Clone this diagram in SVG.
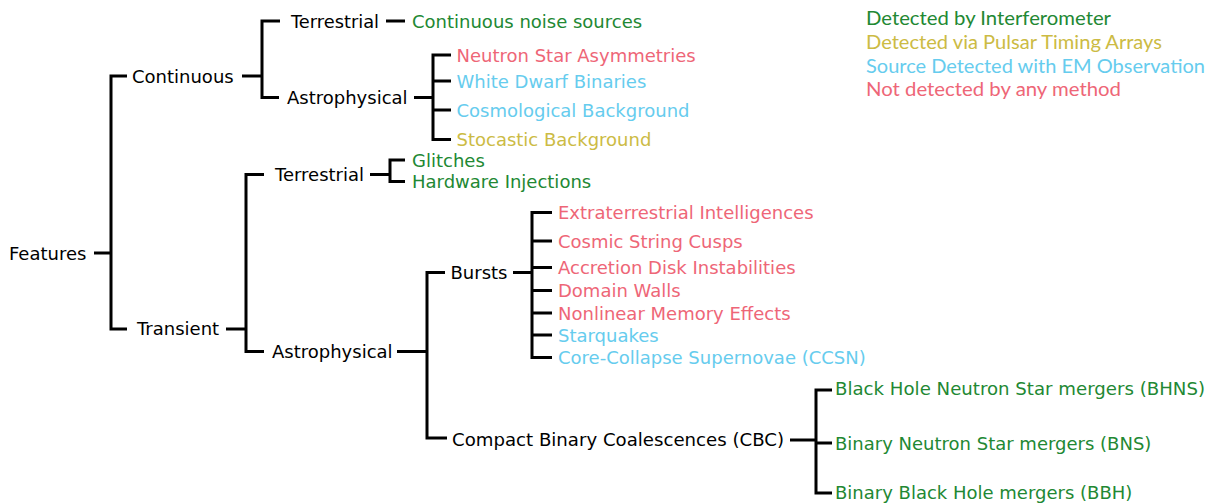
<svg xmlns="http://www.w3.org/2000/svg" width="1215" height="503" viewBox="0 0 1215 503">
<style>
text{font-family:"DejaVu Sans",sans-serif;font-size:18px}
.k{fill:#000}
.g{fill:#228833}
.y{fill:#CCBB44}
.c{fill:#66CCEE}
.r{fill:#EE6677}
.lg{font-family:Lato,"Noto Sans",sans-serif;font-size:18.5px}
#connectors path{fill:none;stroke:#000;stroke-width:3}
</style>
<rect width="1215" height="503" fill="#fff"/>
<g id="connectors">
<path d="M94 253 H111"/>
<path d="M127 76 H111 V329 H127"/>
<path d="M242 76 H262"/>
<path d="M280 21 H262 V97.5 H279"/>
<path d="M386 21 H405"/>
<path d="M414 97.5 H433"/>
<path d="M451 55 H433 V139.5 H451 M433 81 H451 M433 110 H451"/>
<path d="M226 329 H246"/>
<path d="M264 174.5 H246 V351.5 H264"/>
<path d="M370 174.5 H390"/>
<path d="M405 160 H390 V181.5 H405"/>
<path d="M397 351.5 H427"/>
<path d="M445 272.5 H427 V438 H447"/>
<path d="M513 272.5 H532"/>
<path d="M552 212.5 H532 V357.5 H552 M532 241 H552 M532 267.5 H552 M532 290.5 H552 M532 313 H552 M532 335 H552"/>
<path d="M790 440 H816"/>
<path d="M832 390 H816 V493 H832 M816 443 H832"/>
</g>
<g id="n-features"><text class="k" x="9" y="259.5">Features</text></g>
<g id="n-continuous"><text class="k" x="132" y="82.5">Continuous</text></g>
<g id="n-transient"><text class="k" x="137" y="335">Transient</text></g>
<g id="n-cont-terrestrial"><text class="k" x="291" y="28" textLength="88" lengthAdjust="spacingAndGlyphs">Terrestrial</text></g>
<g id="n-cont-astro"><text class="k" x="287" y="104">Astrophysical</text></g>
<g id="n-noise"><text class="g" x="412" y="27.5">Continuous noise sources</text></g>
<g id="n-nsa"><text class="r" x="456.5" y="61.5">Neutron Star Asymmetries</text></g>
<g id="n-wdb"><text class="c" x="456.5" y="87.5">White Dwarf Binaries</text></g>
<g id="n-cosmo"><text class="c" x="456.5" y="116.5">Cosmological Background</text></g>
<g id="n-stoc"><text class="y" x="456.5" y="145.5">Stocastic Background</text></g>
<g id="n-trans-terrestrial"><text class="k" x="275" y="181" textLength="89" lengthAdjust="spacingAndGlyphs">Terrestrial</text></g>
<g id="n-glitches"><text class="g" x="412" y="166.5">Glitches</text></g>
<g id="n-hw"><text class="g" x="412" y="188">Hardware Injections</text></g>
<g id="n-trans-astro"><text class="k" x="272" y="358">Astrophysical</text></g>
<g id="n-bursts"><text class="k" x="450.5" y="279">Bursts</text></g>
<g id="n-eti"><text class="r" x="558" y="219">Extraterrestrial Intelligences</text></g>
<g id="n-csc"><text class="r" x="558" y="247.5">Cosmic String Cusps</text></g>
<g id="n-adi"><text class="r" x="558" y="274">Accretion Disk Instabilities</text></g>
<g id="n-dw"><text class="r" x="558" y="297">Domain Walls</text></g>
<g id="n-nme"><text class="r" x="558" y="319.5">Nonlinear Memory Effects</text></g>
<g id="n-sq"><text class="c" x="558" y="341.5">Starquakes</text></g>
<g id="n-ccsn"><text class="c" x="558" y="364">Core-Collapse Supernovae (CCSN)</text></g>
<g id="n-cbc"><text class="k" x="452" y="446" textLength="332" lengthAdjust="spacingAndGlyphs">Compact Binary Coalescences (CBC)</text></g>
<g id="n-bhns"><text class="g" x="835" y="394.5" textLength="370" lengthAdjust="spacingAndGlyphs">Black Hole Neutron Star mergers (BHNS)</text></g>
<g id="n-bns"><text class="g" x="835" y="449.5">Binary Neutron Star mergers (BNS)</text></g>
<g id="n-bbh"><text class="g" x="835" y="499">Binary Black Hole mergers (BBH)</text></g>
<g id="legend">
<text class="lg g" x="866" y="25" textLength="245" lengthAdjust="spacingAndGlyphs">Detected by Interferometer</text>
<text class="lg y" x="866" y="49" textLength="296" lengthAdjust="spacingAndGlyphs">Detected via Pulsar Timing Arrays</text>
<text class="lg c" x="866" y="72.5" textLength="339" lengthAdjust="spacingAndGlyphs">Source Detected with EM Observation</text>
<text class="lg r" x="866" y="95.5" textLength="255" lengthAdjust="spacingAndGlyphs">Not detected by any method</text>
</g>
</svg>
